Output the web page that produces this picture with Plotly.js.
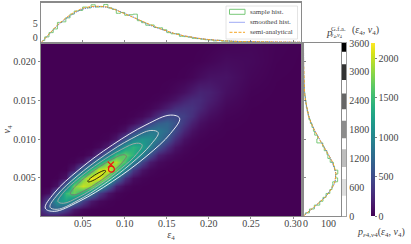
<!DOCTYPE html>
<html><head><meta charset="utf-8">
<script src="https://cdn.plot.ly/plotly-3.0.0.min.js"></script>
<style>html,body{margin:0;padding:0;background:#fff}#c{width:411px;height:244px}</style>
</head><body><div id="c"></div>
<script>
var gridX=[0,.01,.02,.03,.04,.05,.06,.07,.08,.09,.10,.11,.12,.13,.14,.15,.16,.17,.18,.19,.20,.22,.25,.28,.31];
var gridY=[.0001,.001,.002,.003,.004,.005,.006,.007,.008,.009,.010,.011,.012,.013,.014,.015,.016,.018,.020,.0224];
var densityByColumn=[
[137,265,115,11],
[160,635,535,76,3],
[130,700,1140,700,105,6],
[57,425,1260,1485,780,112,8],
[17,141,865,1700,1750,960,175,17],
[4,47,415,1350,2020,1730,775,113,10],
[1,14,142,890,1860,2145,1495,510,60,4],
[0,4,48,395,1300,2130,2045,1200,330,39,3],
[0,0,14,121,705,1610,2090,1770,900,175,23,1],
[0,0,2,28,190,865,1650,1940,1510,695,130,18,1],
[0,0,0,5,48,290,940,1560,1690,1205,520,97,14,1],
[0,0,0,0,11,71,365,955,1415,1415,955,365,71,11,1],
[0,0,0,0,3,21,111,455,985,1260,1125,670,190,43,6],
[0,0,0,0,0,6,37,155,530,935,1070,860,445,119,26,4],
[0,0,0,0,0,1,12,58,195,570,855,890,635,290,75,17,2],
[0,0,0,0,0,0,5,24,91,290,580,750,700,460,170,56,13],
[0,0,0,0,0,0,2,10,41,110,280,470,550,470,280,110,41,2],
[0,0,0,0,0,0,0,3,14,40,100,225,350,400,330,205,85,9],
[0,0,0,0,0,0,0,0,5,14,42,95,190,290,315,265,150,28,2],
[0,0,0,0,0,0,0,0,1,5,15,40,85,150,235,255,215,65,9],
[0,0,0,0,0,0,0,0,0,2,5,17,40,78,130,180,195,100,25,2],
[0,0,0,0,0,0,0,0,0,0,1,3,7,18,36,60,85,105,62,13],
[0,0,0,0,0,0,0,0,0,0,0,0,1,1,3,6,13,32,46,34],
[0,0,0,0,0,0,0,0,0,0,0,0,0,0,0,0,1,4,10,16],
[0,0,0,0,0,0,0,0,0,0,0,0,0,0,0,0,0,0,1,3]];

var contourX=[
[.1652,.1545,.1253,.0854,.0455,.0163,.0056,.0163,.0455,.0854,.1253,.1545],
[.1398,.1311,.1076,.0755,.0433,.0198,.0112,.0198,.0433,.0755,.1076,.1311],
[.1207,.1140,.0957,.0707,.0457,.0274,.0207,.0274,.0457,.0707,.0957,.1140],
[.1020,.0975,.0854,.0687,.0520,.0399,.0354,.0399,.0520,.0687,.0854,.0975],
[.0774,.0760,.0721,.0667,.0614,.0575,.0560,.0575,.0614,.0667,.0721,.0760]];
var contourY=[
[.01267,.01308,.01182,.00924,.00604,.00306,.00111,.0007,.00196,.00454,.00774,.01072],
[.01082,.0111,.01002,.00787,.00522,.0028,.00124,.00096,.00204,.00419,.00684,.0093],
[.00924,.00946,.00864,.00701,.005,.00316,.00196,.00174,.00256,.00419,.0062,.00804],
[.00783,.00797,.00742,.00633,.00498,.00375,.00295,.00281,.00336,.00445,.0058,.00703],
[.0059,.00596,.00582,.00552,.00514,.00478,.00454,.00448,.00462,.00492,.0053,.00566]];
var contourColors=['#ffffff','#dddddd','#aaaaaa','#777777','#111111'];

var topHistX=[.0025,.0075,.0125,.0175,.0225,.0275,.0325,.0375,.0425,.0475,.0525,.0575,.0625,.0675,.0725,.0775,.0825,.0875,.0925,.0975,.1025,.1075,.1125,.1175,.1225,.1275,.1325,.1375,.1425,.1475,.1525,.1575,.1625,.1675,.1725,.1775,.1825,.1875,.1925,.1975,.2025,.2075,.2125,.2175,.2225,.2275,.2325,.2375,.2425,.2475,.2525,.2575,.2625,.2675,.2725];
var topHistY=[.6,1.9,3.4,4.7,7.0,7.2,8.6,9.9,11.0,11.2,12.4,12.1,13.2,12.4,12.5,13.3,12.1,11.6,10.2,10.5,9.5,9.7,9.9,7.6,6.9,6.0,6.1,5.2,5.1,4.4,3.4,3.0,3.0,2.1,2.0,1.8,1.4,1.3,1.1,.9,.85,.5,.7,.4,.45,.3,.25,.2,.25,.1,.12,.05,.05,.04,.03];
var topCurveX=[.001,.01,.02,.03,.04,.05,.06,.07,.08,.09,.10,.11,.12,.13,.14,.15,.16,.17,.18,.19,.20,.21,.22,.24,.26,.28,.31];
var topSemi=[0,2.9,6.1,8.6,10.6,12.0,12.6,12.7,12.4,11.3,10.0,8.9,7.4,6.1,5.0,4.0,3.0,2.3,1.75,1.3,.95,.65,.48,.25,.13,.06,.02];
var topSmooth=[0,2.7,5.9,8.3,10.3,11.7,12.4,12.6,12.3,11.4,10.2,8.9,7.4,6.0,4.9,3.9,3.0,2.3,1.7,1.3,.95,.68,.5,.26,.12,.06,.02];

var sideHistY=[.00025,.00075,.00125,.00175,.00225,.00275,.00325,.00375,.00425,.00475,.00525,.00575,.00625,.00675,.00725,.00775,.00825,.00875,.00925,.00975,.01025,.01075,.01125,.01175,.01225,.01275,.01325,.01375,.01425,.01475,.01525,.01575,.01625,.01675,.01725,.01775,.01825,.01875,.01925,.01975,.0205];
var sideHistX=[10,33,60,90,108,125,146,158,162,189,178,190,172,166,148,135,130,115,107,74,78,62,55,47,38,30,26,21,16,13,10,7,5,4,2,1.5,1,.5,.5,.2,.1];
var sideCurveY=[.0001,.0005,.001,.0015,.002,.0025,.003,.0035,.004,.0045,.005,.0055,.006,.0065,.007,.0075,.008,.0085,.009,.0095,.01,.011,.012,.013,.014,.015,.016,.018,.02,.0223];
var sideSemi=[0,20,50,75,100,120,138,152,165,174,179,180,176,170,162,150,137,125,112,100,87,64,43,28,19,11,6,1.5,.5,0];
var sideSmooth=[0,18,48,73,98,118,136,152,166,175,179,179,175,168,160,150,138,125,113,100,87,64,44,28,18,11,6,1.5,.5,0];

var bandLow=[420,1020,1620,2220,2830,3420];
var bandSize=[350,370,360,330,330,180];
var bandColors=['#dedede','#bdbdbd','#8c8c8c','#666666','#333333','#000000'];
var grayTicks=[0,600,1200,1800,2400,3000,3600];
var densityTicks=[0,500,1000,1500,2000];
var mainXTicks=[.05,.10,.15,.20,.25,.30];
var mainYTicks=[.005,.010,.015,.020];
var redCircle={x:[.0842],y:[.00612]};
var redCross={x:[.0835],y:[.0067]};
var legendLabels=['sample hist.','smoothed hist.','semi-analytical'];

var W=411,H=244;
function px(v){return v/W;} function py(v){return 1-v/H;}
var z=gridY.map(function(_,r){return gridX.map(function(_,c){var v=densityByColumn[c][r];return v===undefined?0:v;});});
var FONT='"Liberation Serif",serif', TXT='#444444', GREEN='#79c879', BLUE='#3f55e8', ORANGE='#f5a623', FRAME='#8a8a8a';

var traces=[{type:'heatmap',x:gridX,y:gridY,z:z,colorscale:'Viridis',zmin:0,zmax:2190,zsmooth:'best',hoverinfo:'skip',
  colorbar:{x:px(370.5),xanchor:'left',xref:'paper',y:py(216),yanchor:'bottom',yref:'paper',len:173/H,lenmode:'fraction',thickness:4,thicknessmode:'pixels',
  outlinewidth:0,tickvals:densityTicks,ticks:'outside',ticklen:2,tickwidth:.7,tickcolor:TXT,tickfont:{family:FONT,size:10,color:TXT},xpad:0,ypad:0}}];
contourX.forEach(function(cx,i){traces.push({type:'scatter',mode:'lines',x:cx.concat([cx[0]]),y:contourY[i].concat([contourY[i][0]]),
  line:{color:contourColors[i],width:.9,shape:'spline',smoothing:1.1},showlegend:false,hoverinfo:'skip'});});
traces.push({type:'scatter',mode:'markers',x:redCircle.x,y:redCircle.y,marker:{symbol:'circle-open',size:6,color:'#f01010',line:{width:1.2,color:'#f01010'}},showlegend:false});
traces.push({type:'scatter',mode:'markers',x:redCross.x,y:redCross.y,marker:{symbol:'x-thin-open',size:6,color:'#f01010',line:{width:1.2,color:'#f01010'}},showlegend:false});
traces.push({type:'scatter',mode:'lines',xaxis:'x2',yaxis:'y2',x:topHistX,y:topHistY,line:{color:GREEN,width:1,shape:'hvh'},showlegend:false});
traces.push({type:'scatter',mode:'lines',xaxis:'x2',yaxis:'y2',x:topCurveX,y:topSmooth,line:{color:BLUE,width:1,dash:'1px,1px'},showlegend:false});
traces.push({type:'scatter',mode:'lines',xaxis:'x2',yaxis:'y2',x:topCurveX,y:topSemi,line:{color:ORANGE,width:1,dash:'3px,1.5px'},showlegend:false});
traces.push({type:'scatter',mode:'lines',xaxis:'x3',yaxis:'y3',x:sideHistX,y:sideHistY,line:{color:GREEN,width:1,shape:'vhv'},showlegend:false});
traces.push({type:'scatter',mode:'lines',xaxis:'x3',yaxis:'y3',x:sideSmooth,y:sideCurveY,line:{color:BLUE,width:1,dash:'1px,1px'},showlegend:false});
traces.push({type:'scatter',mode:'lines',xaxis:'x3',yaxis:'y3',x:sideSemi,y:sideCurveY,line:{color:ORANGE,width:1,dash:'3px,1.5px'},showlegend:false});
traces.push({type:'bar',xaxis:'x4',yaxis:'y4',x:bandLow.map(function(){return 0;}),y:bandSize,base:bandLow,width:1,marker:{color:bandColors,line:{width:0}},showlegend:false});

function frame(o){return Object.assign({showline:true,mirror:true,linecolor:FRAME,linewidth:1.3,showgrid:false,zeroline:false,
  tickcolor:'#555',tickwidth:.7,tickfont:{family:FONT,size:10,color:TXT}},o);}
var xr=[.0005,.3095], yr=[.0001,.02235];
var layout={width:W,height:H,margin:{l:0,r:0,t:0,b:0},paper_bgcolor:'#fff',plot_bgcolor:'#fff',showlegend:false,barmode:'overlay',font:{family:FONT},
 xaxis:frame({domain:[px(41),px(301)],range:xr,tickvals:mainXTicks,tickformat:'.2f',ticks:'outside',ticklen:2,anchor:'y',ticklabelstandoff:-4,
   title:{text:'<i>ε</i><sub>4</sub>',font:{family:FONT,size:10,color:TXT},standoff:2}}),
 yaxis:frame({domain:[py(216),py(43)],range:yr,tickvals:mainYTicks,tickformat:'.3f',ticks:'outside',ticklen:2,anchor:'x',
   title:{text:'<i>v</i><sub>4</sub>',font:{family:FONT,size:10,color:TXT},standoff:0}}),
 xaxis2:frame({domain:[px(41),px(301)],range:xr,tickvals:mainXTicks,ticks:'inside',ticklen:2,showticklabels:false,anchor:'y2'}),
 yaxis2:frame({domain:[py(42.3),py(2.5)],range:[0,14],tickvals:[0,5],ticks:'',anchor:'x2',ticklabelshift:-5}),
 xaxis3:frame({domain:[px(303.5),px(340.5)],range:[0,205],tickvals:[0,100],ticks:'',showticklabels:false,anchor:'y3'}),
 yaxis3:frame({domain:[py(216),py(43)],range:yr,tickvals:mainYTicks,ticks:'inside',ticklen:2,showticklabels:false,anchor:'x3'}),
 xaxis4:frame({domain:[px(342),px(346.5)],range:[-.5,.5],showticklabels:false,ticks:'',anchor:'y4',linewidth:.8}),
 yaxis4:frame({domain:[py(216),py(43)],range:[0,3600],tickvals:grayTicks,ticks:'',side:'right',anchor:'x4',linewidth:.8}),
 shapes:[
  {type:'rect',xref:'paper',yref:'paper',x0:px(226),x1:px(297.5),y0:py(39),y1:py(6),fillcolor:'rgba(255,255,255,.8)',line:{color:'#dddddd',width:.8}},
  {type:'rect',xref:'paper',yref:'paper',x0:px(229.5),x1:px(245),y0:py(14.3),y1:py(9.3),line:{color:GREEN,width:1}},
  {type:'line',xref:'paper',yref:'paper',x0:px(229.5),x1:px(245),y0:py(22.3),y1:py(22.3),line:{color:BLUE,width:1,dash:'1px,1px'}},
  {type:'line',xref:'paper',yref:'paper',x0:px(229.5),x1:px(245),y0:py(32.3),y1:py(32.3),line:{color:ORANGE,width:1,dash:'3px,1.5px'}}
 ],
 annotations:[]
};
function note(t,x,y,xa,ya,s){layout.annotations.push({text:t,xref:'paper',yref:'paper',x:px(x),y:py(y),xanchor:xa,yanchor:ya,showarrow:false,font:{family:FONT,size:s,color:TXT},borderpad:0,borderwidth:0});}
legendLabels.forEach(function(t,i){note(t,250,12.3+10*i,'left','middle',7);});
note('0',303,223,'left','middle',10);
note('100',321,223,'left','middle',10);
note('<i>p</i>',326,32,'left','middle',11);
note('G.f.a.',331,28,'left','middle',6.5);
note('<i>ε</i><sub>4</sub>,<i>v</i><sub>4</sub>',331,36,'left','middle',6);
note('(<i>ε</i><sub>4</sub>, <i>v</i><sub>4</sub>)',352,31,'left','middle',10);
note('<i>p</i><sub><i>ε</i>4,<i>v</i>4</sub>(<i>ε</i><sub>4</sub>, <i>v</i><sub>4</sub>)',381,232,'center','middle',10);
Plotly.newPlot('c',traces,layout,{displayModeBar:false,staticPlot:true});
</script></body></html>
